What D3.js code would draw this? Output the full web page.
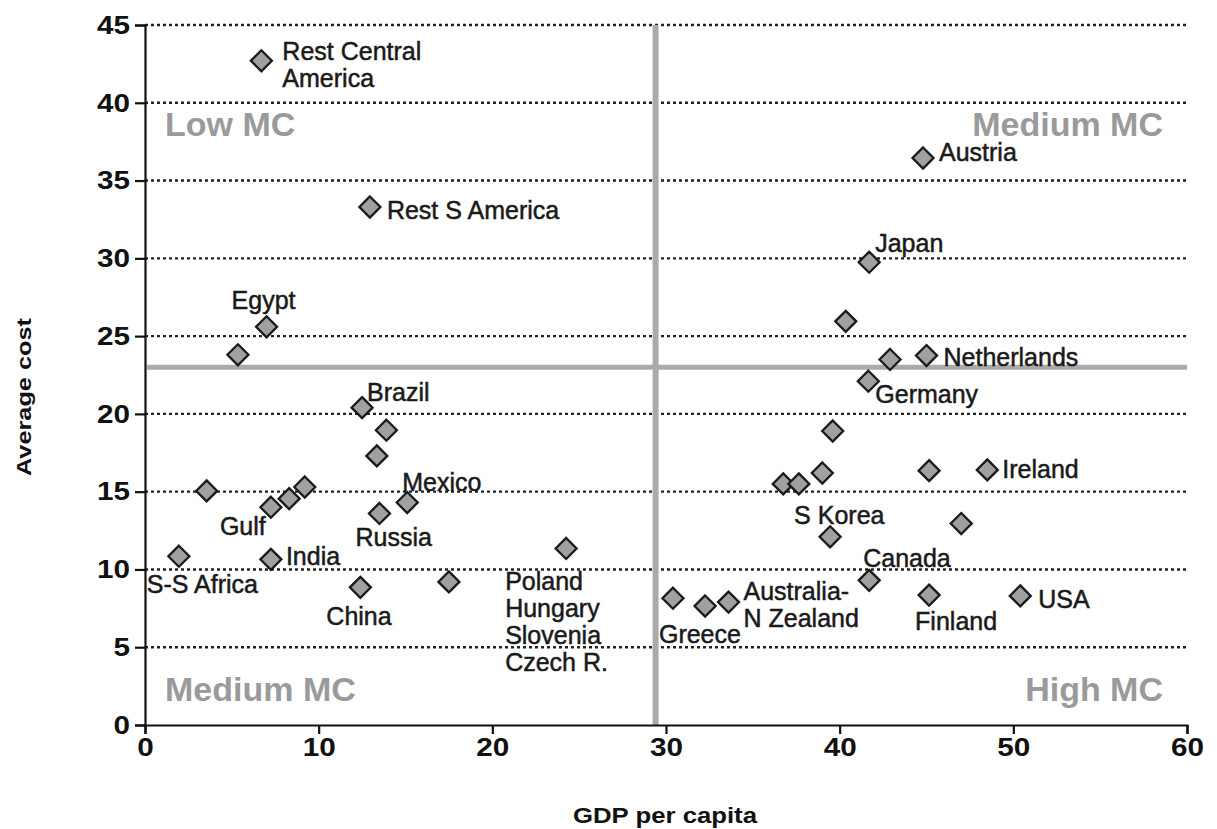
<!DOCTYPE html>
<html>
<head>
<meta charset="utf-8">
<script src="https://cdn.jsdelivr.net/npm/d3@7"></script>
<style>
  body { margin: 0; background: #fff; }
  text { font-family: "Liberation Sans", Arial, sans-serif; }
</style>
</head>
<body>
<script>
// countries (blank = unlabelled point), GDP per capita, average cost
const names = ["Rest Central America", "Rest S America", "Egypt", "", "Brazil", "", "",
  "Mexico", "Russia", "", "Gulf", "", "", "India", "S-S Africa", "China", "",
  "Poland Hungary Slovenia Czech R.",
  "Greece", "", "Australia- N Zealand", "Canada", "Finland", "USA", "S Korea",
  "", "", "", "", "Ireland", "", "", "Germany", "", "Netherlands", "", "Japan", "Austria"];
const gdp = [6.7, 12.95, 7.0, 5.35, 12.5, 13.9, 13.35,
  15.1, 13.5, 3.55, 7.25, 8.3, 9.2, 7.25, 1.95, 12.4, 17.5,
  24.25,
  30.4, 32.25, 33.6, 41.7, 45.15, 50.4, 39.45,
  36.75, 37.65, 39.0, 45.15, 48.5, 47.0, 39.6, 41.65, 42.9, 45.0, 40.35, 41.7, 44.8];
const cost = [42.7, 33.3, 25.6, 23.8, 20.4, 18.95, 17.3,
  14.3, 13.6, 15.05, 14.0, 14.55, 15.3, 10.65, 10.85, 8.85, 9.2,
  11.35,
  8.15, 7.65, 7.9, 9.3, 8.35, 8.3, 12.1,
  15.5, 15.5, 16.2, 16.35, 16.4, 12.95, 18.9, 22.1, 23.5, 23.75, 25.95, 29.75, 36.45];

const xTicks = [0, 10, 20, 30, 40, 50, 60];
const yTicks = [0, 5, 10, 15, 20, 25, 30, 35, 40, 45];
const gdpSplit = 29.4, costSplit = 23;
const quadrants = [
  {label: "Low MC", x: 0, y: 45, anchor: "start"},
  {label: "Medium MC", x: 60, y: 45, anchor: "end"},
  {label: "Medium MC", x: 0, y: 0, anchor: "start"},
  {label: "High MC", x: 60, y: 0, anchor: "end"}
];

// label offsets from the point, in px
const nudge = {
  "Rest Central America": [21, -1], "Rest S America": [17, 12], "Egypt": [-35, -18],
  "Brazil": [5, -7], "Mexico": [-5, -12], "Gulf": [-51, 28], "Russia": [-24, 33],
  "India": [15, 6], "S-S Africa": [-32, 37], "China": [-34, 38],
  "Poland Hungary Slovenia Czech R.": [-61, 42], "Greece": [-14, 45],
  "Australia- N Zealand": [15, -2], "S Korea": [-36, -13], "Canada": [-6, -13],
  "Finland": [-14, 35], "USA": [18, 12], "Ireland": [15, 8], "Netherlands": [17, 10],
  "Germany": [7, 22], "Japan": [6, -10], "Austria": [16, 3]
};
const lineBreaks = {
  "Rest Central America": ["Rest Central", "America"],
  "Poland Hungary Slovenia Czech R.": ["Poland", "Hungary", "Slovenia", "Czech R."],
  "Australia- N Zealand": ["Australia-", "N Zealand"]
};

const width = 1217, height = 829;
const x = d3.scaleLinear().domain([0, 60]).range([145, 1187]);
const y = d3.scaleLinear().domain([0, 45]).range([725, 25]);

const svg = d3.select("body").append("svg")
  .attr("width", width).attr("height", height);

// dotted gridlines
svg.append("g")
  .selectAll("line")
  .data(yTicks.filter(d => d > 0))
  .join("line")
    .attr("x1", x(0)).attr("x2", x(60))
    .attr("y1", d => y(d)).attr("y2", d => y(d))
    .attr("stroke", "#222").attr("stroke-width", 2.4)
    .attr("stroke-dasharray", "3,3");

// quadrant dividers
svg.append("line")
  .attr("x1", x(0) + 2).attr("x2", x(60))
  .attr("y1", y(costSplit)).attr("y2", y(costSplit))
  .attr("stroke", "#aaaaad").attr("stroke-width", 5);
svg.append("line")
  .attr("x1", x(gdpSplit)).attr("x2", x(gdpSplit))
  .attr("y1", y(45)).attr("y2", y(0))
  .attr("stroke", "#aaaaad").attr("stroke-width", 6);

// quadrant labels
svg.append("g")
  .selectAll("text")
  .data(quadrants)
  .join("text")
    .attr("x", d => x(d.x) + (d.anchor === "start" ? 20 : -24))
    .attr("y", d => y(d.y) + (d.y > 0 ? 111 : -24))
    .attr("text-anchor", d => d.anchor)
    .attr("font-size", 34).attr("font-weight", "bold")
    .attr("fill", "#9a9a9c")
    .text(d => d.label);

// axes
const yAxis = svg.append("g")
  .attr("transform", `translate(${x(0)},0)`)
  .call(d3.axisLeft(y).tickValues(yTicks).tickSize(10).tickPadding(5));
const xAxis = svg.append("g")
  .attr("transform", `translate(0,${y(0)})`)
  .call(d3.axisBottom(x).tickValues(xTicks).tickSize(9).tickPadding(4));
[xAxis, yAxis].forEach(a => {
  a.select(".domain").attr("stroke", "#111").attr("stroke-width", 2.2);
  a.selectAll(".tick line").attr("stroke", "#111").attr("stroke-width", 2.2);
  a.selectAll(".tick text")
    .attr("font-size", 26).attr("font-weight", "bold")
    .attr("font-family", "'Liberation Sans', Arial, sans-serif")
    .attr("fill", "#111")
    .attr("textLength", function() { return this.textContent.length * 16.5; })
    .attr("lengthAdjust", "spacingAndGlyphs");
});

// points
svg.append("g")
  .selectAll("path")
  .data(gdp.map((g, i) => ({g, c: cost[i]})))
  .join("path")
    .attr("transform", d => `translate(${x(d.g)},${y(d.c)})`)
    .attr("d", "M0,-10.5L10.5,0L0,10.5L-10.5,0Z")
    .attr("fill", "#a0a0a2").attr("stroke", "#1a1a1a").attr("stroke-width", 2.3);

// country labels
svg.append("g")
  .selectAll("text")
  .data(names.map((n, i) => ({n, g: gdp[i], c: cost[i]})).filter(d => d.n))
  .join("text")
    .attr("x", d => x(d.g) + nudge[d.n][0])
    .attr("y", d => y(d.c) + nudge[d.n][1])
    .attr("font-size", 25).attr("fill", "#1a1a1a")
    .attr("stroke", "#1a1a1a").attr("stroke-width", 0.5)
    .each(function(d) {
      const lines = lineBreaks[d.n] || [d.n];
      const t = d3.select(this);
      lines.forEach((l, k) => {
        t.append("tspan")
          .attr("x", x(d.g) + nudge[d.n][0])
          .attr("dy", k === 0 ? 0 : 27)
          .text(l);
      });
    });

// axis titles
svg.append("text")
  .attr("transform", `translate(31,${(y(0) + y(45)) / 2 + 22}) rotate(-90)`)
  .attr("text-anchor", "middle")
  .attr("font-size", 21).attr("font-weight", "bold")
  .attr("textLength", 158).attr("lengthAdjust", "spacingAndGlyphs")
  .attr("fill", "#111")
  .text("Average cost");
svg.append("text")
  .attr("x", 665).attr("y", 823)
  .attr("text-anchor", "middle")
  .attr("font-size", 22).attr("font-weight", "bold")
  .attr("textLength", 184).attr("lengthAdjust", "spacingAndGlyphs")
  .attr("fill", "#111")
  .text("GDP per capita");
</script>
</body>
</html>
